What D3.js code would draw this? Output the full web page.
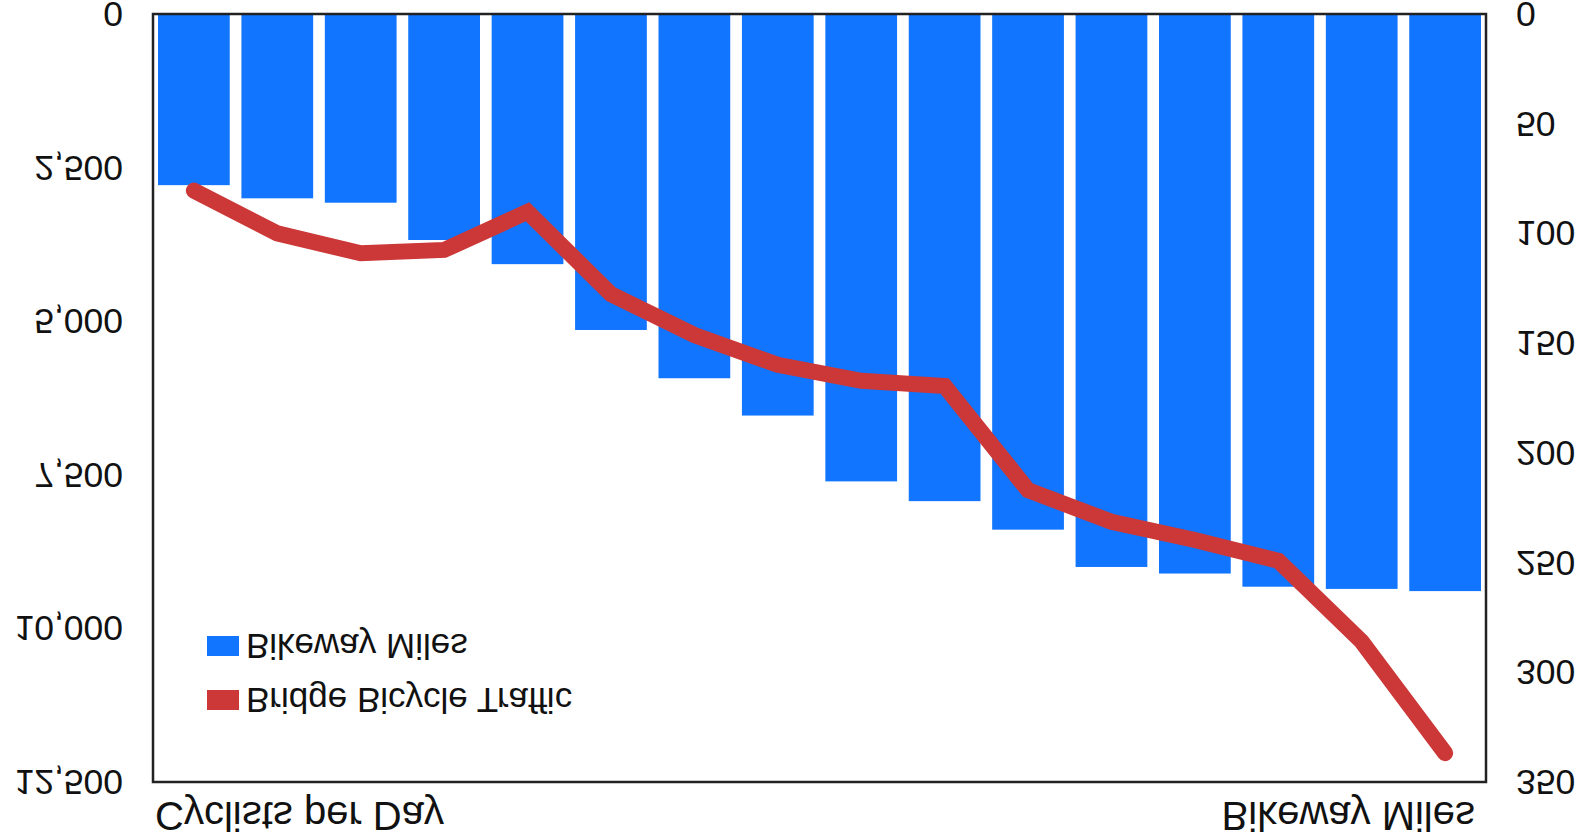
<!DOCTYPE html>
<html>
<head>
<meta charset="utf-8">
<script src="https://cdn.jsdelivr.net/npm/d3@7"></script>
<style>
  html, body { margin: 0; padding: 0; background: #fff; }
  svg { display: block; }
  text { font-family: "Liberation Sans", Arial, sans-serif; fill: #111; }
</style>
</head>
<body>
<svg id="chart" width="1595" height="837"></svg>
<script>
// ---- data ----
const categories = ["2000","2001","2002","2003","2004","2005","2006","2007","2008","2009","2010","2011","2012","2013","2014","2015"];
const bikewayMiles = [78, 84, 86, 103, 114, 144, 166, 183, 213, 222, 235, 252, 255, 261, 262, 263];
const bridgeTraffic = [2875, 3570, 3895, 3840, 3220, 4560, 5225, 5710, 5970, 6055, 7750, 8265, 8560, 8900, 10215, 12030];
const leftTicks = [0, 2500, 5000, 7500, 10000, 12500];
const rightTicks = [0, 50, 100, 150, 200, 250, 300, 350];
const seriesNames = ["Bikeway Miles", "Bridge Bicycle Traffic"];
const seriesColors = ["#1175ff", "#cc3737"];
const leftTitle = "Cyclists per Day";
const rightTitle = "Bikeway Miles";

// ---- layout ----
const svg = d3.select("#chart");
const L = 153, R = 1486, T = 14, B = 782;

const x = d3.scaleBand().domain(categories).range([L, R]).paddingInner(0.14).paddingOuter(0.06);
// the whole picture is mirrored top-to-bottom: values grow downward
const yLeft = d3.scaleLinear().domain([0, 12500]).range([T, B]);
const yRight = d3.scaleLinear().domain([0, 350]).range([T, B]);

// bars
svg.append("g").selectAll("rect").data(categories).join("rect")
  .attr("x", d => x(d))
  .attr("width", x.bandwidth())
  .attr("y", T)
  .attr("height", (d, i) => yRight(bikewayMiles[i]) - T)
  .attr("fill", seriesColors[0]);

// line
const line = d3.line()
  .x((d, i) => x(categories[i]) + x.bandwidth() / 2)
  .y(d => yLeft(d));
svg.append("path").datum(bridgeTraffic)
  .attr("d", line)
  .attr("fill", "none")
  .attr("stroke", seriesColors[1])
  .attr("stroke-width", 16)
  .attr("stroke-linecap", "round")
  .attr("stroke-linejoin", "miter");

// frame
svg.append("rect").attr("x", L).attr("y", T).attr("width", R - L).attr("height", B - T)
  .attr("fill", "none").attr("stroke", "#222").attr("stroke-width", 2.5);

// axes (flipped text)
const fmt = d3.format(",");
const axL = svg.append("g").attr("transform", `translate(${L},0)`)
  .call(d3.axisLeft(yLeft).tickValues(leftTicks).tickSize(0).tickPadding(30).tickFormat(fmt));
const axR = svg.append("g").attr("transform", `translate(${R},0)`)
  .call(d3.axisRight(yRight).tickValues(rightTicks).tickSize(0).tickPadding(30).tickFormat(d3.format("d")));
[axL, axR].forEach(a => {
  a.select(".domain").remove();
  a.selectAll("text")
    .attr("dy", "0.35em")
    .attr("transform", "scale(1,-1)")
    .style("font-size", "35.5px")
    .style("font-family", "'Liberation Sans', Arial, sans-serif")
    .attr("fill", "#111");
});

// axis titles (flipped)
svg.append("text").attr("transform", `translate(155,802) scale(1,-1)`)
  .attr("text-anchor", "start").style("font-size", "40px").text(leftTitle);
svg.append("text").attr("transform", `translate(1475,802) scale(1,-1)`)
  .attr("text-anchor", "end").style("font-size", "40px").text(rightTitle);

// legend (flipped)
const legendY = [646, 700];
const lg = svg.append("g");
seriesNames.forEach((name, i) => {
  lg.append("rect").attr("x", 207).attr("y", legendY[i] - 10).attr("width", 32).attr("height", 20)
    .attr("fill", seriesColors[i]);
  lg.append("text").attr("transform", `translate(246,${legendY[i]}) scale(1,-1)`)
    .attr("dy", "0.35em").style("font-size", "35px").text(name);
});
</script>
</body>
</html>
